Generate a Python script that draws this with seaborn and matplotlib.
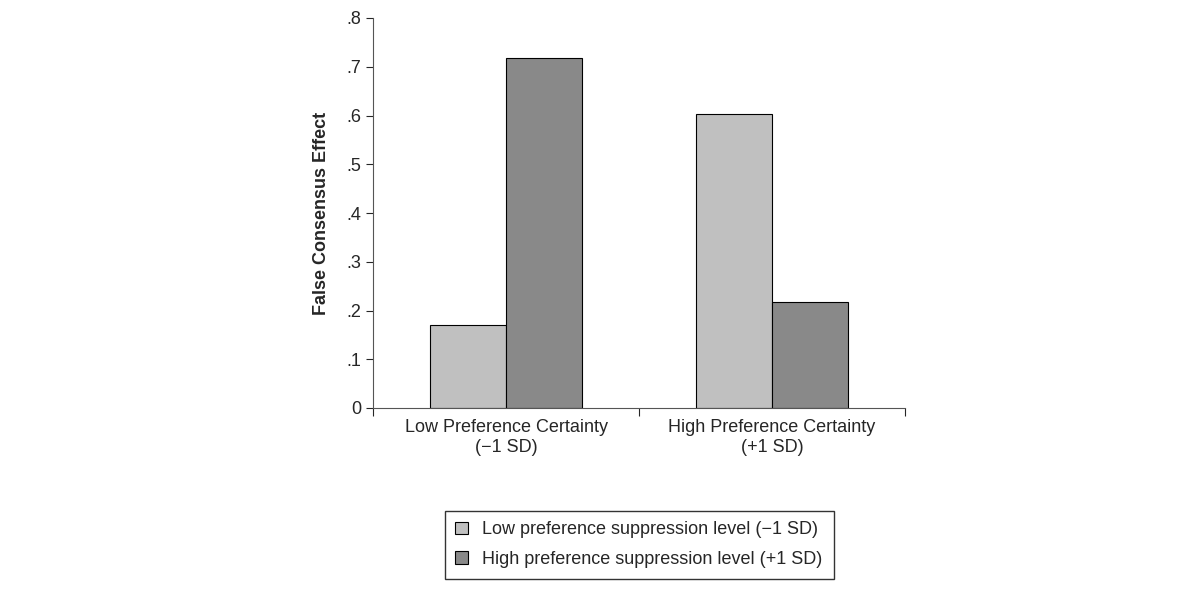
import matplotlib
matplotlib.use("Agg")
import matplotlib.pyplot as plt
import seaborn as sns
import pandas as pd
from matplotlib.ticker import FixedLocator, FuncFormatter

categories = ["Low Preference Certainty\n(\u22121 SD)", "High Preference Certainty\n(+1 SD)"]
series = ["Low preference suppression level (\u22121 SD)", "High preference suppression level (+1 SD)"]
low_vals = [0.17, 0.603]
high_vals = [0.717, 0.218]
colors = ["#c0c0c0", "#898989"]

df = pd.DataFrame({
    "cat": categories * 2,
    "series": [series[0]] * 2 + [series[1]] * 2,
    "val": low_vals + high_vals,
})

sns.set_style("white")
plt.rcParams["font.family"] = ["Liberation Sans", "DejaVu Sans"]
fig = plt.figure(figsize=(12, 6), dpi=100)
ax = fig.add_axes([0.311, 0.32, 0.443, 0.65])
sns.barplot(data=df, x="cat", y="val", hue="series", palette=colors, width=0.57,
            edgecolor="black", linewidth=0.8, ax=ax, saturation=1)
ax.set_xlim(-0.5, 1.5)
ax.set_ylim(0, 0.8)
ax.set_yticks([0, .1, .2, .3, .4, .5, .6, .7, .8])
ax.yaxis.set_major_formatter(FuncFormatter(lambda v, p: "0" if v == 0 else f"{v:.1f}".lstrip("0")))
ax.xaxis.set_minor_locator(FixedLocator([-0.5, 0.5, 1.5]))
ax.tick_params(axis="x", which="major", length=0, labelsize=13, pad=8)
ax.tick_params(axis="x", which="minor", length=6, direction="out", width=0.8, bottom=True)
ax.tick_params(axis="y", length=5, direction="out", width=0.8, labelsize=13, left=True)
for s in ["top", "right"]:
    ax.spines[s].set_visible(False)
for s in ["left", "bottom"]:
    ax.spines[s].set_color("#555555")
    ax.spines[s].set_linewidth(0.8)
ax.set_xlabel("")
ax.set_ylabel("False Consensus Effect", fontsize=13, fontweight="bold", labelpad=12)
ax.legend(loc="upper center", bbox_to_anchor=(0.5, -0.24), fontsize=13, frameon=True,
          fancybox=False, edgecolor="black", handlelength=0.7, handleheight=0.7, borderpad=0.6,
          labelspacing=0.7)
fig.savefig("out.png", dpi=100)
